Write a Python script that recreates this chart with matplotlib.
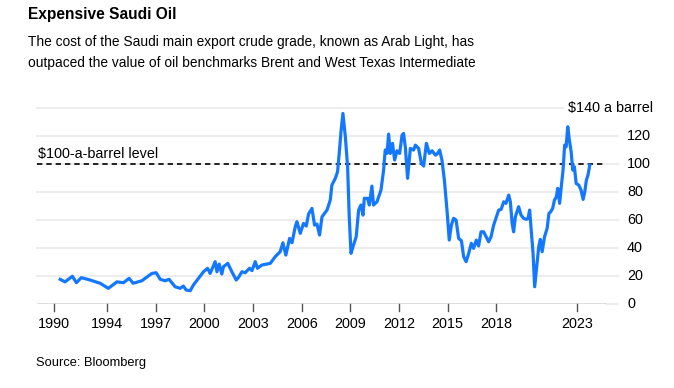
"""Expensive Saudi Oil: Arab Light price, 1991-2023."""
import matplotlib

matplotlib.use("Agg")

import matplotlib.pyplot as plt

BLUE = "#1478FF"
INK = "#000000"
GRID = "#EDEDED"
AXIS = "#555555"

plt.rcParams["font.family"] = ["Liberation Sans", "DejaVu Sans"]

# Arab Light, USD per barrel
years = [
    1991.10, 1991.40, 1991.85, 1992.10, 1992.40, 1992.95, 1993.56, 1994.07,
    1994.60, 1995.00, 1995.35, 1995.60, 1996.14, 1996.48, 1996.75, 1997.02,
    1997.27, 1997.57, 1997.82, 1998.19, 1998.50, 1998.70, 1998.87, 1999.12,
    1999.32, 1999.63, 1999.94, 2000.19, 2000.35, 2000.66, 2000.77, 2000.91,
    2001.07, 2001.17, 2001.44, 2001.69, 2001.96, 2002.10, 2002.31, 2002.51,
    2002.78, 2002.93, 2003.13, 2003.27, 2003.54, 2004.06, 2004.36, 2004.67,
    2004.84, 2005.02, 2005.25, 2005.40, 2005.60, 2005.70, 2005.91, 2006.11,
    2006.28, 2006.42, 2006.63, 2006.79, 2006.94, 2007.10, 2007.25, 2007.56,
    2007.76, 2007.86, 2008.07, 2008.21, 2008.33, 2008.42, 2008.54, 2008.69,
    2008.83, 2008.93, 2009.04, 2009.16, 2009.36, 2009.51, 2009.65, 2009.78,
    2009.86, 2010.06, 2010.17, 2010.33, 2010.43, 2010.64, 2010.89, 2011.05,
    2011.15, 2011.26, 2011.36, 2011.46, 2011.60, 2011.73, 2011.88, 2012.04,
    2012.19, 2012.28, 2012.39, 2012.53, 2012.70, 2012.90, 2013.01, 2013.21,
    2013.38, 2013.52, 2013.69, 2013.87, 2014.04, 2014.25, 2014.38, 2014.51,
    2014.65, 2014.80, 2014.96, 2015.10, 2015.23, 2015.37, 2015.52, 2015.68,
    2015.85, 2015.99, 2016.14, 2016.30, 2016.46, 2016.60, 2016.77, 2016.91,
    2017.06, 2017.22, 2017.39, 2017.53, 2017.68, 2017.84, 2018.01, 2018.15,
    2018.30, 2018.46, 2018.60, 2018.77, 2018.87, 2018.98, 2019.07, 2019.18,
    2019.38, 2019.53, 2019.69, 2019.86, 2019.96, 2020.06, 2020.17, 2020.27,
    2020.37, 2020.52, 2020.62, 2020.72, 2020.83, 2020.98, 2021.14, 2021.25,
    2021.36, 2021.48, 2021.59, 2021.71, 2021.79, 2021.91, 2022.01, 2022.12,
    2022.22, 2022.31, 2022.41, 2022.51, 2022.62, 2022.72, 2022.82, 2022.93,
    2023.09, 2023.23, 2023.36, 2023.46, 2023.56, 2023.66, 2023.77,
]
price = [
    17.8, 16.0, 20.0, 15.4, 19.0, 17.3, 15.0, 11.4,
    16.0, 15.4, 18.5, 15.0, 16.8, 19.7, 22.0, 22.5,
    17.8, 16.8, 17.8, 12.5, 11.4, 13.0, 10.2, 9.7,
    13.8, 18.5, 23.2, 25.7, 22.0, 30.4, 23.2, 28.7,
    21.6, 26.8, 29.2, 23.2, 17.3, 19.2, 23.2, 22.5,
    25.7, 24.0, 30.4, 25.7, 28.0, 29.2, 33.9, 37.5,
    43.9, 35.1, 47.0, 43.9, 55.3, 58.9, 50.6, 57.7,
    55.8, 64.4, 68.4, 56.5, 57.2, 49.4, 62.4, 67.2,
    74.3, 85.0, 89.8, 94.5, 110.0, 123.0, 136.1, 119.5,
    98.0, 62.4, 36.3, 41.0, 48.2, 67.2, 70.8, 63.6,
    75.6, 75.6, 70.8, 84.3, 70.8, 73.1, 81.5, 95.7,
    110.0, 107.6, 121.4, 107.6, 114.8, 102.9, 109.5, 107.6,
    120.7, 121.9, 112.3, 89.8, 111.2, 110.0, 113.5, 111.2,
    100.5, 98.6, 114.8, 107.6, 109.5, 106.4, 107.6, 110.0,
    102.9, 88.6, 67.2, 45.8, 56.5, 61.3, 60.1, 47.0,
    45.3, 33.9, 30.4, 36.3, 43.5, 39.9, 45.8, 41.6,
    51.7, 51.7, 47.8, 44.6, 48.2, 56.5, 62.4, 67.2,
    67.7, 73.1, 72.0, 77.9, 73.1, 57.7, 51.7, 62.4,
    69.6, 63.6, 61.3, 60.6, 61.3, 67.2, 50.6, 36.3,
    12.5, 29.2, 41.0, 46.3, 37.5, 48.2, 54.2, 64.9,
    66.0, 68.4, 74.3, 76.7, 82.7, 72.0, 83.8, 95.7,
    113.5, 112.3, 126.6, 117.1, 108.8, 95.7, 98.1, 86.2,
    85.0, 81.5, 74.8, 80.3, 88.6, 92.2, 99.3,
]

year_ticks = [1990.74, 1994, 1997, 2000, 2003, 2006, 2009, 2012, 2015, 2018, 2023]
year_labels = ["1990", "1994", "1997", "2000", "2003", "2006", "2009", "2012",
               "2015", "2018", "2023"]
price_ticks = [0, 20, 40, 60, 80, 100, 120]

W, H = 674, 388
fig = plt.figure(figsize=(W / 100, H / 100), dpi=100)
fig.patch.set_facecolor("white")

# axes box in pixels: x 36.7..606, y(0)=304.3, y(140)=108
ax = fig.add_axes([36.7 / W, (H - 304.3) / H, (606 - 36.7) / W, (304.3 - 108) / H])
ax.set_xlim(1989.65, 2024.77)
ax.set_ylim(0, 140)
ax.axis("off")

grid_end = (618 - 36.7) / (606 - 36.7)
for v in price_ticks[1:]:
    ax.axhline(v, 0, grid_end, color=GRID, lw=1.5, clip_on=False, zorder=1)
    ax.text(grid_end + 0.016, v, str(v), ha="left", va="center",
            fontsize=10.4, color=INK, transform=ax.get_yaxis_transform())
ax.axhline(140, 0, (563 - 36.7) / (606 - 36.7), color=GRID, lw=1.5,
           clip_on=False, zorder=1)
ax.text((652.7 - 36.7) / (606 - 36.7), 140, "$140 a barrel", ha="right",
        va="center", fontsize=10.4, color=INK, transform=ax.get_yaxis_transform())
ax.axhline(0, 1, grid_end, color=GRID, lw=1.5, clip_on=False, zorder=1)
ax.text(grid_end + 0.016, 0, "0", ha="left", va="center",
        fontsize=10.4, color=INK, transform=ax.get_yaxis_transform())

# baseline and year ticks
ax.axhline(0, color=AXIS, lw=1.0, zorder=2)
for t, lab in zip(year_ticks, year_labels):
    ax.plot([t, t], [0, -5], color=AXIS, lw=1.0, clip_on=False, zorder=2)
    ax.text(t, -14.2, lab, ha="center", va="center", fontsize=10.4, color=INK)

# $100 reference
ax.axhline(100, color=INK, lw=1.2, ls=(0, (3.2, 2.4)), zorder=3)
ax.text(1989.7, 107, "$100-a-barrel level", ha="left", va="center",
        fontsize=10.4, color=INK)

ax.plot(years, price, color=BLUE, lw=2.3, solid_joinstyle="round", zorder=4)

fig.text(28 / W, 1 - 15 / H, "Expensive Saudi Oil", ha="left", va="center",
         fontsize=11.2, fontweight="bold", color=INK)
fig.text(28 / W, 1 - 41.7 / H,
         "The cost of the Saudi main export crude grade, known as Arab Light, has",
         ha="left", va="center", fontsize=9.9, color=INK)
fig.text(28 / W, 1 - 63.3 / H,
         "outpaced the value of oil benchmarks Brent and West Texas Intermediate",
         ha="left", va="center", fontsize=9.9, color=INK)
fig.text(36 / W, 1 - 362.7 / H, "Source: Bloomberg", ha="left", va="center",
         fontsize=9.3, color=INK)

fig.savefig("out.png", dpi=100, facecolor="white")
